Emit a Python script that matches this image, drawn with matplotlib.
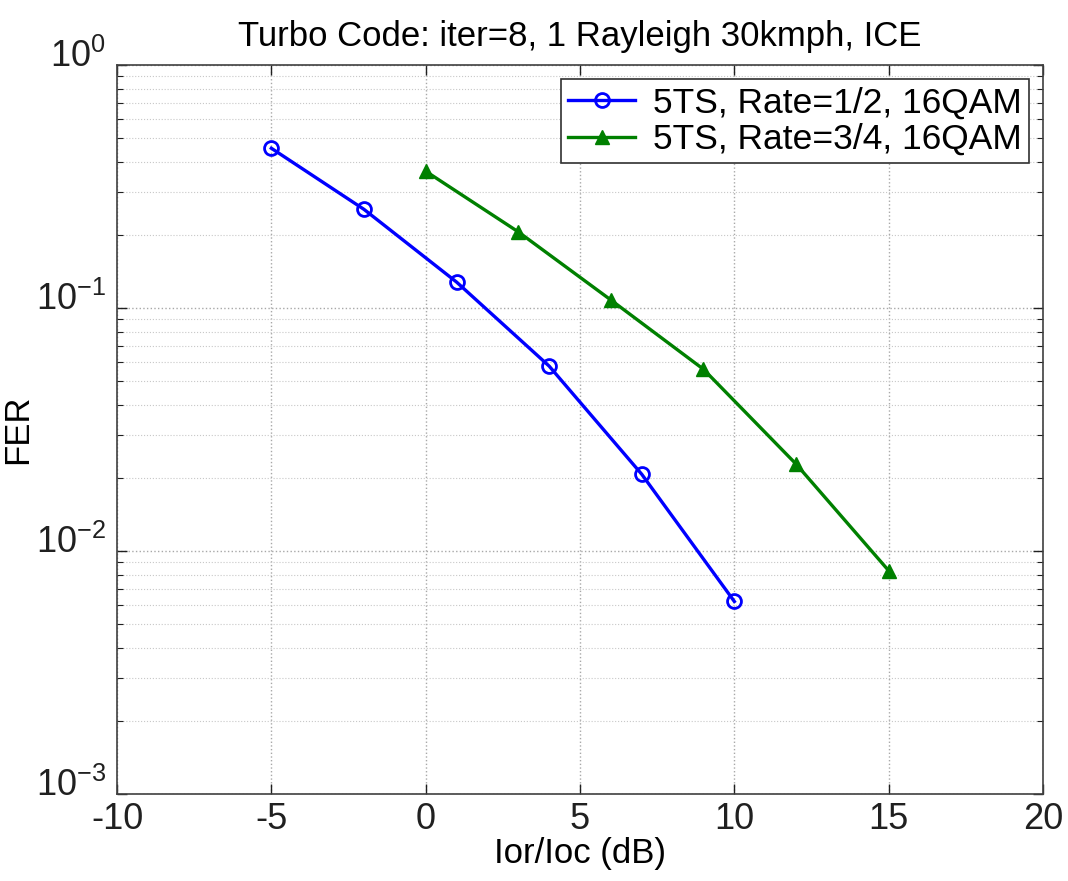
import numpy as np
import matplotlib
matplotlib.use("Agg")
import matplotlib.pyplot as plt
import matplotlib.transforms as mtransforms

plt.rcParams['font.family'] = ['Liberation Sans', 'DejaVu Sans']
plt.rcParams['mathtext.fontset'] = 'custom'
plt.rcParams['mathtext.rm'] = 'Liberation Sans'
plt.rcParams['mathtext.it'] = 'Liberation Sans'

# data
snr_half = [-5, -2, 1, 4, 7, 10]
fer_half = [0.455, 0.255, 0.128, 0.0577, 0.0207, 0.0062]
snr_3q = [0, 3, 6, 9, 12, 15]
fer_3q = [0.366, 0.206, 0.108, 0.056, 0.0228, 0.0083]
x_ticks = [-10, -5, 0, 5, 10, 15, 20]

fig = plt.figure(figsize=(10.68, 8.81), dpi=100)
ax = fig.add_axes([0.1096, 0.0988, 0.867, 0.8272])

ax.semilogy(snr_half, fer_half, color='#0000ff', lw=2.4, marker='o', ms=10,
            mfc='none', mec='#0000ff', mew=2, label='5TS, Rate=1/2, 16QAM')
ax.semilogy(snr_3q, fer_3q, color='#008000', lw=2.4, marker='^', ms=10,
            mfc='#008000', mec='#008000', label='5TS, Rate=3/4, 16QAM')

ax.set_xlim(-10, 20)
ax.set_ylim(1e-3, 1)
ax.set_xticks(x_ticks)
ax.set_xticklabels([str(v) for v in x_ticks])

ax.grid(True, which='major', color='#a8a8a8', ls=':', lw=1.0)
ax.grid(True, which='minor', color='#c8c8c8', ls=':', lw=0.8)
ax.tick_params(which='both', direction='in', top=True, right=True, labelsize=26,
               colors='#202020')
ax.tick_params(which='major', length=7, width=1)
ax.tick_params(which='minor', length=4, width=0.8)
ax.tick_params(axis='y', pad=8)
ax.tick_params(axis='x', pad=6)
for s in ax.spines.values():
    s.set_color('#404040')
    s.set_linewidth(1.2)

# lift the y labels a little, as in the reference
shift = mtransforms.ScaledTranslation(0, 12 / 100, fig.dpi_scale_trans)
for lbl in ax.get_yticklabels():
    lbl.set_transform(lbl.get_transform() + shift)

ax.set_title('Turbo Code: iter=8, 1 Rayleigh 30kmph, ICE', fontsize=25, pad=14)
ax.set_xlabel('Ior/Ioc (dB)', fontsize=25, labelpad=0)
ax.set_ylabel('FER', fontsize=25)
ax.yaxis.set_label_coords(-0.09, 0.5)

leg = ax.legend(loc='upper right', fontsize=25.5, fancybox=False, framealpha=1,
                edgecolor='#303030', borderaxespad=0.4, handlelength=1.9,
                borderpad=0.2, labelspacing=0.1, handletextpad=0.5)
leg.get_frame().set_linewidth(1.2)

fig.savefig('out.png', dpi=100)
